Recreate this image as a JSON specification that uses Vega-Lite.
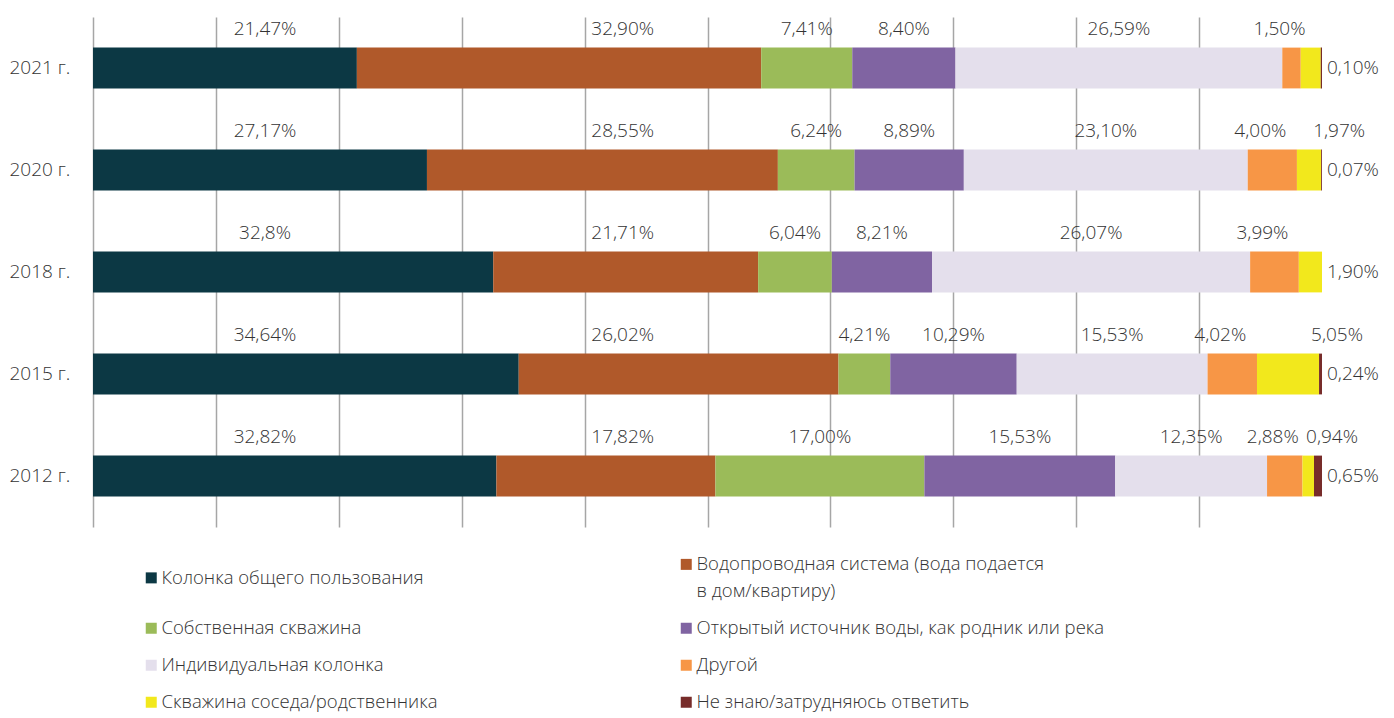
{
  "$schema": "https://vega.github.io/schema/vega-lite/v6.json",
  "width": 1229,
  "height": 510,
  "autosize": {"type": "none"},
  "padding": {"left": 93, "top": 17, "right": 72, "bottom": 191},
  "background": "white",
  "config": {
    "view": {"stroke": null},
    "font": "Open Sans",
    "axisX": {"title": null, "grid": true, "domain": false, "ticks": false, "labels": false, "gridColor": "#a6a6a6", "gridWidth": 1.5}
  },
  "data": {
    "values": [
      {"year": "2021 г.", "k": 1, "series": "Колонка общего пользования", "value": 21.47, "label": "21,47%"},
      {"year": "2021 г.", "k": 2, "series": "Водопроводная система (вода подается в дом/квартиру)", "value": 32.90, "label": "32,90%"},
      {"year": "2021 г.", "k": 3, "series": "Собственная скважина", "value": 7.41, "label": "7,41%"},
      {"year": "2021 г.", "k": 4, "series": "Открытый источник воды, как родник или река", "value": 8.40, "label": "8,40%"},
      {"year": "2021 г.", "k": 5, "series": "Индивидуальная колонка", "value": 26.59, "label": "26,59%"},
      {"year": "2021 г.", "k": 6, "series": "Другой", "value": 1.50, "label": "1,50%"},
      {"year": "2021 г.", "k": 7, "series": "Скважина соседа/родственника", "value": 1.63, "label": ""},
      {"year": "2021 г.", "k": 8, "series": "Не знаю/затрудняюсь ответить", "value": 0.10, "label": "0,10%"},

      {"year": "2020 г.", "k": 1, "series": "Колонка общего пользования", "value": 27.17, "label": "27,17%"},
      {"year": "2020 г.", "k": 2, "series": "Водопроводная система (вода подается в дом/квартиру)", "value": 28.55, "label": "28,55%"},
      {"year": "2020 г.", "k": 3, "series": "Собственная скважина", "value": 6.24, "label": "6,24%"},
      {"year": "2020 г.", "k": 4, "series": "Открытый источник воды, как родник или река", "value": 8.89, "label": "8,89%"},
      {"year": "2020 г.", "k": 5, "series": "Индивидуальная колонка", "value": 23.10, "label": "23,10%"},
      {"year": "2020 г.", "k": 6, "series": "Другой", "value": 4.00, "label": "4,00%"},
      {"year": "2020 г.", "k": 7, "series": "Скважина соседа/родственника", "value": 1.97, "label": "1,97%"},
      {"year": "2020 г.", "k": 8, "series": "Не знаю/затрудняюсь ответить", "value": 0.07, "label": "0,07%"},

      {"year": "2018 г.", "k": 1, "series": "Колонка общего пользования", "value": 32.8, "label": "32,8%"},
      {"year": "2018 г.", "k": 2, "series": "Водопроводная система (вода подается в дом/квартиру)", "value": 21.71, "label": "21,71%"},
      {"year": "2018 г.", "k": 3, "series": "Собственная скважина", "value": 6.04, "label": "6,04%"},
      {"year": "2018 г.", "k": 4, "series": "Открытый источник воды, как родник или река", "value": 8.21, "label": "8,21%"},
      {"year": "2018 г.", "k": 5, "series": "Индивидуальная колонка", "value": 26.07, "label": "26,07%"},
      {"year": "2018 г.", "k": 6, "series": "Другой", "value": 3.99, "label": "3,99%"},
      {"year": "2018 г.", "k": 7, "series": "Скважина соседа/родственника", "value": 1.90, "label": "1,90%"},

      {"year": "2015 г.", "k": 1, "series": "Колонка общего пользования", "value": 34.64, "label": "34,64%"},
      {"year": "2015 г.", "k": 2, "series": "Водопроводная система (вода подается в дом/квартиру)", "value": 26.02, "label": "26,02%"},
      {"year": "2015 г.", "k": 3, "series": "Собственная скважина", "value": 4.21, "label": "4,21%"},
      {"year": "2015 г.", "k": 4, "series": "Открытый источник воды, как родник или река", "value": 10.29, "label": "10,29%"},
      {"year": "2015 г.", "k": 5, "series": "Индивидуальная колонка", "value": 15.53, "label": "15,53%"},
      {"year": "2015 г.", "k": 6, "series": "Другой", "value": 4.02, "label": "4,02%"},
      {"year": "2015 г.", "k": 7, "series": "Скважина соседа/родственника", "value": 5.05, "label": "5,05%"},
      {"year": "2015 г.", "k": 8, "series": "Не знаю/затрудняюсь ответить", "value": 0.24, "label": "0,24%"},

      {"year": "2012 г.", "k": 1, "series": "Колонка общего пользования", "value": 32.82, "label": "32,82%"},
      {"year": "2012 г.", "k": 2, "series": "Водопроводная система (вода подается в дом/квартиру)", "value": 17.82, "label": "17,82%"},
      {"year": "2012 г.", "k": 3, "series": "Собственная скважина", "value": 17.00, "label": "17,00%"},
      {"year": "2012 г.", "k": 4, "series": "Открытый источник воды, как родник или река", "value": 15.53, "label": "15,53%"},
      {"year": "2012 г.", "k": 5, "series": "Индивидуальная колонка", "value": 12.35, "label": "12,35%"},
      {"year": "2012 г.", "k": 6, "series": "Другой", "value": 2.88, "label": "2,88%"},
      {"year": "2012 г.", "k": 7, "series": "Скважина соседа/родственника", "value": 0.94, "label": "0,94%"},
      {"year": "2012 г.", "k": 8, "series": "Не знаю/затрудняюсь ответить", "value": 0.65, "label": "0,65%"}
    ]
  },
  "encoding": {
    "y": {
      "field": "year",
      "type": "nominal",
      "sort": ["2021 г.", "2020 г.", "2018 г.", "2015 г.", "2012 г."],
      "scale": {"paddingInner": 0.6, "paddingOuter": 0.3},
      "axis": {
        "title": null,
        "domain": false,
        "ticks": false,
        "labelAlign": "left",
        "labelPadding": 84,
        "labelFontSize": 19,
        "labelFontWeight": 300,
        "labelFont": "Open Sans",
        "labelColor": "#333333"
      }
    }
  },
  "layer": [
    {
      "mark": {"type": "bar"},
      "encoding": {
        "x": {
          "field": "value",
          "type": "quantitative",
          "stack": "normalize",
          "scale": {"domain": [0, 1], "nice": false},
          "axis": {
            "title": null,
            "grid": true,
            "values": [0, 0.1, 0.2, 0.3, 0.4, 0.5, 0.6, 0.7, 0.8, 0.9],
            "domain": false,
            "ticks": false,
            "labels": false,
            "gridColor": "#a6a6a6",
            "gridWidth": 1.5
          }
        },
        "color": {
          "field": "series",
          "type": "nominal",
          "scale": {
            "domain": [
              "Колонка общего пользования",
              "Собственная скважина",
              "Индивидуальная колонка",
              "Скважина соседа/родственника",
              "Водопроводная система (вода подается в дом/квартиру)",
              "Открытый источник воды, как родник или река",
              "Другой",
              "Не знаю/затрудняюсь ответить"
            ],
            "range": ["#0c3844", "#9bbb59", "#e4dfec", "#f2e81c", "#b0592a", "#8064a2", "#f79646", "#772c2a"]
          },
          "legend": {
            "title": null,
            "orient": "none",
            "legendX": 49,
            "legendY": 538,
            "columns": 2,
            "columnPadding": 239,
            "rowPadding": 18,
            "symbolType": "square",
            "symbolSize": 121,
            "symbolStrokeWidth": 0,
            "labelFontSize": 18.5,
            "labelFontWeight": 300,
            "labelFont": "Open Sans",
            "labelColor": "#333333",
            "labelOffset": 1,
            "labelLimit": 700,
            "labelExpr": "datum.label == 'Водопроводная система (вода подается в дом/квартиру)' ? ['Водопроводная система (вода подается', 'в дом/квартиру)'] : datum.label",
            "encoding": {"labels": {"lineHeight": {"value": 27}}}
          }
        },
        "order": {"field": "k", "type": "quantitative"}
      }
    },
    {
      "transform": [
        {"stack": "value", "groupby": ["year"], "sort": [{"field": "k", "order": "ascending"}], "offset": "normalize", "as": ["x0", "x1"]},
        {"fold": ["x0", "x1"], "as": ["edge", "pos"]},
        {"aggregate": [{"op": "mean", "field": "pos", "as": "mid"}, {"op": "max", "field": "pos", "as": "end"}], "groupby": ["year", "series", "k", "label"]},
        {"joinaggregate": [{"op": "max", "field": "k", "as": "kmax"}], "groupby": ["year"]}
      ],
      "layer": [
        {
          "transform": [{"filter": "datum.k == 1"}],
          "mark": {"type": "text", "dy": -39, "fontSize": 19, "fontWeight": 300, "color": "#333333", "baseline": "middle"},
          "encoding": {
            "x": {"datum": 0.14, "type": "quantitative", "scale": {"domain": [0, 1], "nice": false}, "axis": {"title": null, "values": [0, 0.1, 0.2, 0.3, 0.4, 0.5, 0.6, 0.7, 0.8, 0.9]}},
            "text": {"field": "label"}
          }
        },
        {
          "transform": [{"filter": "datum.k == 2"}],
          "mark": {"type": "text", "dy": -39, "fontSize": 19, "fontWeight": 300, "color": "#333333", "baseline": "middle"},
          "encoding": {
            "x": {"datum": 0.431, "type": "quantitative", "scale": {"domain": [0, 1], "nice": false}, "axis": {"title": null, "values": [0, 0.1, 0.2, 0.3, 0.4, 0.5, 0.6, 0.7, 0.8, 0.9]}},
            "text": {"field": "label"}
          }
        },
        {
          "transform": [{"filter": "datum.k >= 3 && datum.k <= 5"}],
          "mark": {"type": "text", "dy": -39, "fontSize": 19, "fontWeight": 300, "color": "#333333", "baseline": "middle"},
          "encoding": {
            "x": {"field": "mid", "type": "quantitative", "scale": {"domain": [0, 1], "nice": false}, "axis": {"title": null, "values": [0, 0.1, 0.2, 0.3, 0.4, 0.5, 0.6, 0.7, 0.8, 0.9]}},
            "text": {"field": "label"}
          }
        },
        {
          "transform": [{"filter": "datum.k == 6 && datum.k != datum.kmax"}],
          "mark": {"type": "text", "dy": -39, "dx": -12, "fontSize": 19, "fontWeight": 300, "color": "#333333", "baseline": "middle"},
          "encoding": {
            "x": {"field": "mid", "type": "quantitative", "scale": {"domain": [0, 1], "nice": false}, "axis": {"title": null, "values": [0, 0.1, 0.2, 0.3, 0.4, 0.5, 0.6, 0.7, 0.8, 0.9]}},
            "text": {"field": "label"}
          }
        },
        {
          "transform": [{"filter": "datum.k == 7 && datum.k != datum.kmax"}],
          "mark": {"type": "text", "dy": -39, "dx": 18, "fontSize": 19, "fontWeight": 300, "color": "#333333", "baseline": "middle"},
          "encoding": {
            "x": {"field": "end", "type": "quantitative", "scale": {"domain": [0, 1], "nice": false}, "axis": {"title": null, "values": [0, 0.1, 0.2, 0.3, 0.4, 0.5, 0.6, 0.7, 0.8, 0.9]}},
            "text": {"field": "label"}
          }
        },
        {
          "transform": [{"filter": "datum.k == datum.kmax"}],
          "mark": {"type": "text", "dx": 5, "align": "left", "fontSize": 19, "fontWeight": 300, "color": "#333333", "baseline": "middle"},
          "encoding": {
            "x": {"field": "end", "type": "quantitative", "scale": {"domain": [0, 1], "nice": false}, "axis": {"title": null, "values": [0, 0.1, 0.2, 0.3, 0.4, 0.5, 0.6, 0.7, 0.8, 0.9]}},
            "text": {"field": "label"}
          }
        }
      ]
    }
  ]
}
